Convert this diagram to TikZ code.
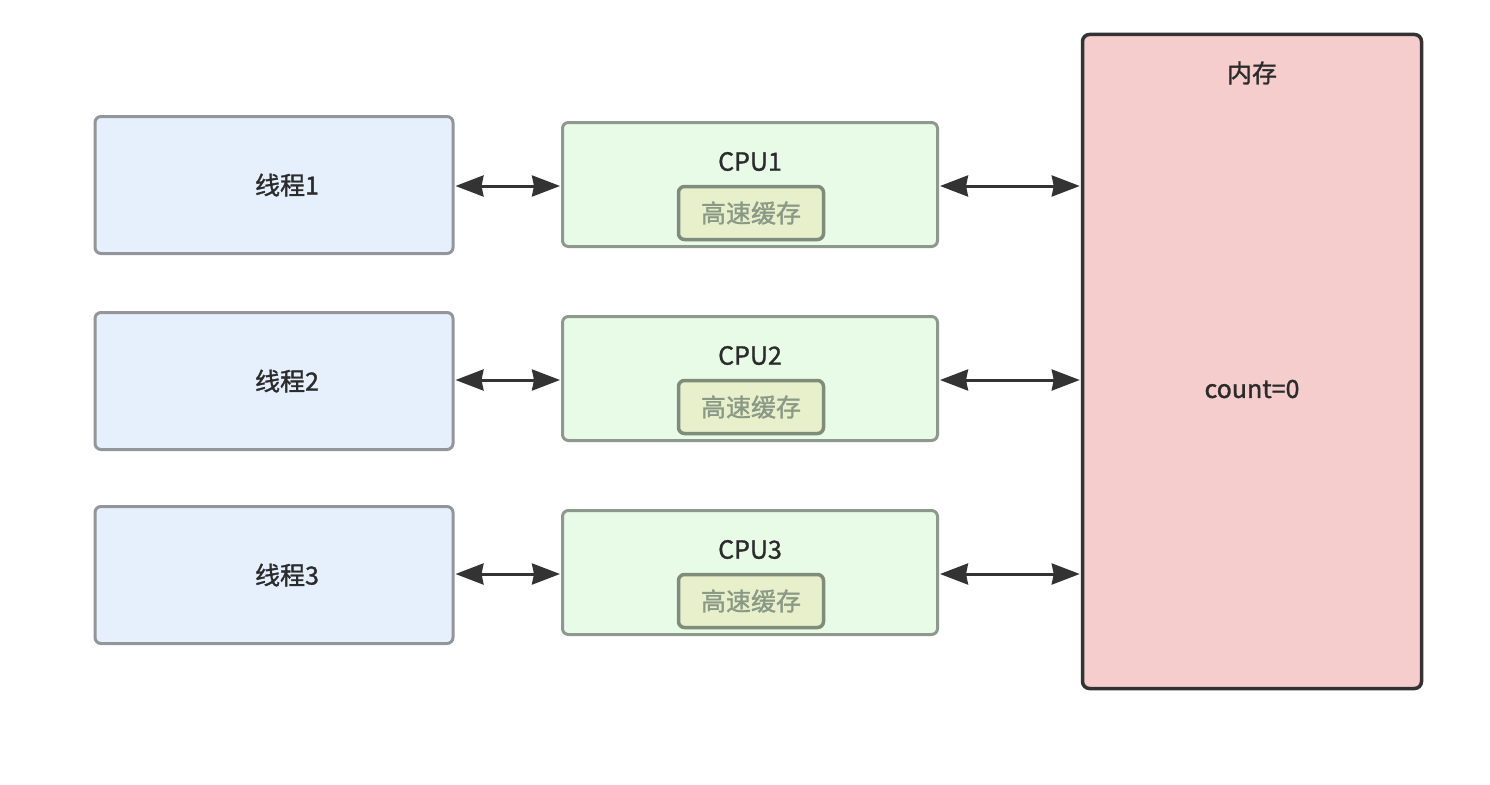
\documentclass[tikz,border=0pt]{standalone}
\usepackage{fontspec}
\setmainfont{Noto Sans CJK SC}[FakeBold=1.2]
\usetikzlibrary{arrows.meta}
\definecolor{thrfill}{HTML}{E6F0FD}
\definecolor{thrdraw}{HTML}{929599}
\definecolor{cpufill}{HTML}{E8FBE6}
\definecolor{cpudraw}{HTML}{8E998E}
\definecolor{cachefill}{HTML}{E7EFCB}
\definecolor{cachedraw}{HTML}{7E8D7A}
\definecolor{cachetext}{HTML}{8A9886}
\definecolor{memfill}{HTML}{F6CDCD}
\definecolor{memdraw}{HTML}{333333}
\definecolor{txt}{HTML}{2B2B2B}
\definecolor{arr}{HTML}{333333}
\tikzset{
  thread/.style={draw=thrdraw, fill=thrfill, line width=3pt, rounded corners=6pt, minimum width=358pt, minimum height=137pt, inner sep=0pt},
  cpubox/.style={draw=cpudraw, fill=cpufill, line width=3pt, rounded corners=6pt, minimum width=375pt, minimum height=124pt, inner sep=0pt},
  cachebox/.style={draw=cachedraw, fill=cachefill, line width=3.5pt, rounded corners=6pt, minimum width=145pt, minimum height=53pt, inner sep=0pt, font=\fontsize{25}{30}\selectfont, text=cachetext},
  lbl/.style={font=\fontsize{25}{30}\selectfont, text=txt, inner sep=0pt},
  membox/.style={draw=memdraw, fill=memfill, line width=3.5pt, rounded corners=7pt, minimum width=339pt, minimum height=654pt, inner sep=0pt},
  link/.style={draw=arr, line width=3pt, {Stealth[length=28pt,width=21pt,inset=2pt]}-{Stealth[length=28pt,width=21pt,inset=2pt]}, shorten <=1pt, shorten >=1pt}
}
\begin{document}
\begin{tikzpicture}[x=1pt,y=-1pt]
\useasboundingbox (0,0) rectangle (1490,784);
\node[membox] (mem) at (1252,361.5) {};
\node[lbl] (memlbl) at (1252,73) {内存};
\node[lbl] (count) at (1252,389) {count=0};
\foreach \i/\ty/\cy in {1/185/184.5, 2/381/378.5, 3/575/572.5}{
  \node[thread] (t\i) at (274,\ty) {};
  \node[lbl] (tl\i) at (287,\ty) {线程\i};
  \node[cpubox] (c\i) at (750,\cy) {};
  \node[lbl] (cl\i) at (750,\cy-23) {CPU\i};
  \node[cachebox] (k\i) at (751,\cy+28.5) {高速缓存};
}
\foreach \i/\y in {1/186, 2/380, 3/574}{
  \draw[link] (t\i.east |- 0,\y) -- (c\i.west |- 0,\y);
  \draw[link] (c\i.east |- 0,\y) -- (mem.west |- 0,\y);
}
\end{tikzpicture}
\end{document}
